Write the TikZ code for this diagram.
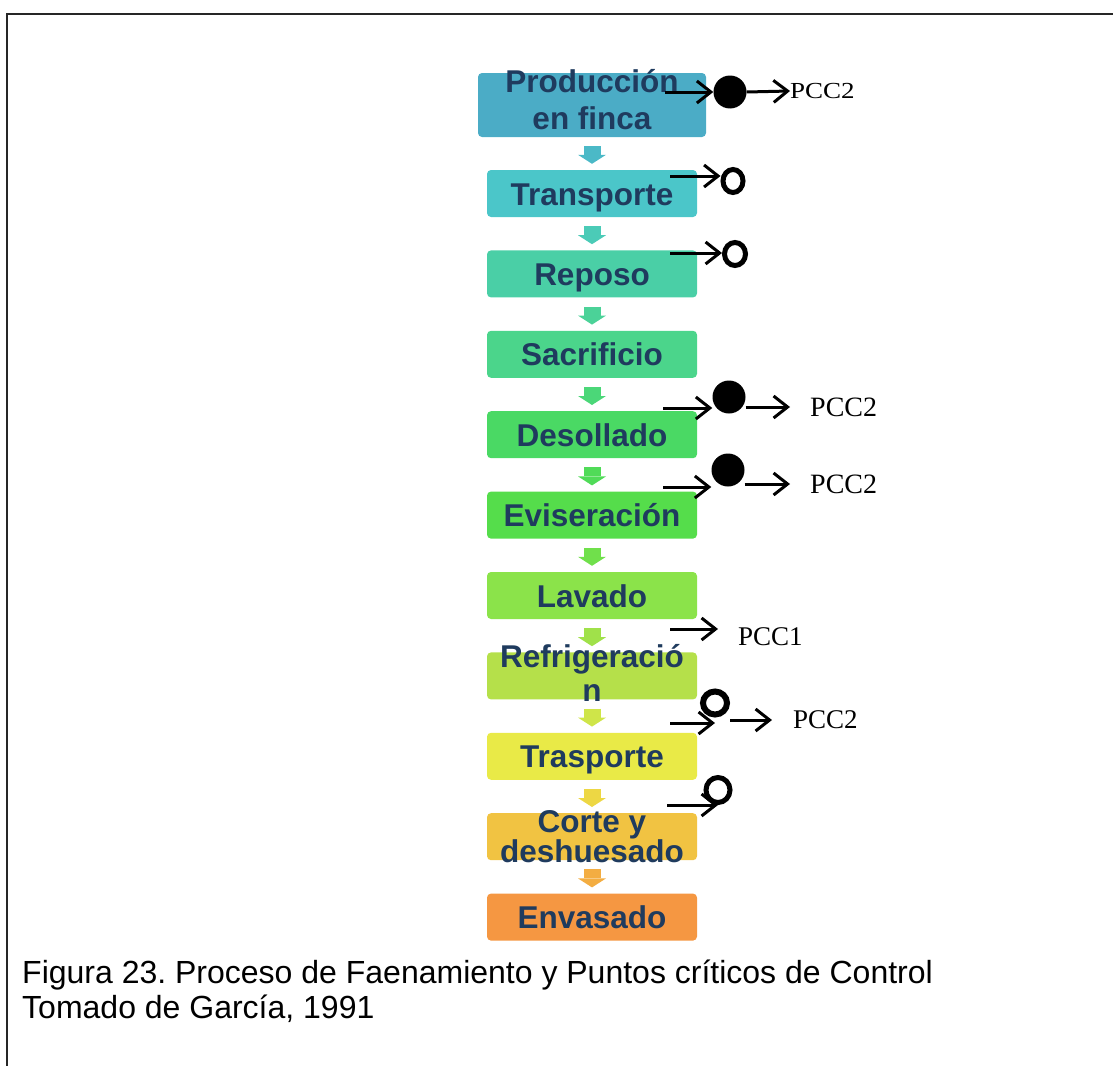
\documentclass[tikz,border=0pt]{standalone}
\usepackage{fontspec}
\setmainfont{Liberation Sans}
\newfontfamily\pccfont{Liberation Serif}
\usetikzlibrary{arrows.meta,shapes.geometric}
\frenchspacing

% step fills, top to bottom
\definecolor{cA}{HTML}{4BACC6}
\definecolor{cB}{HTML}{4BC6C9}
\definecolor{cC}{HTML}{4ACFA6}
\definecolor{cD}{HTML}{4BD58B}
\definecolor{cE}{HTML}{4AD964}
\definecolor{cF}{HTML}{55DD4B}
\definecolor{cG}{HTML}{8BE34A}
\definecolor{cH}{HTML}{B5E04A}
\definecolor{cI}{HTML}{E9EA47}
\definecolor{cJ}{HTML}{F1C342}
\definecolor{cK}{HTML}{F59742}
\definecolor{navytext}{HTML}{1F3B5E}

\begin{document}
\begin{tikzpicture}[x=1pt,y=-1pt,
  stepbox/.style={rectangle, rounded corners=4pt, minimum width=210pt,
    minimum height=47pt, inner sep=0pt},
  steptext/.style={font=\bfseries\fontsize{31.5}{36}\selectfont, text=navytext,
    inner sep=0pt, text height=23pt, text depth=0pt},
  steptwo/.style={text=navytext, align=center, inner sep=0pt},
  flowarrow/.style={line width=17pt, shorten <=9pt, shorten >=6pt,
    -{Triangle[length=9pt,width=28pt,line width=0pt]}},
  pccarrow/.style={draw=black, line width=3pt,
    -{Straight Barb[length=14pt,width=22pt]}},
  dotfull/.style={circle, fill=black, minimum size=33pt, inner sep=0pt},
  dotopen/.style={ellipse, draw=black, line width=5pt, inner sep=0pt},
  pcclabel/.style={font=\pccfont\fontsize{28}{28}\selectfont, inner sep=0pt, anchor=west},
]
\useasboundingbox (0,0) rectangle (1113,1065);

% page frame
\draw[line width=2pt, black!85] (7,1075) -- (7,14) -- (1125,14);

% process steps
\node[stepbox, fill=cA, minimum width=228pt, minimum height=64pt,
  label={[steptwo, yshift=5pt, font=\bfseries\fontsize{31.5}{37}\selectfont]center:{Producción\\en finca}}] (s1) at (592,105) {};
\node[stepbox, fill=cB, label={[steptext]center:Transporte}] (s2) at (592,193.5) {};
\node[stepbox, fill=cC, label={[steptext]center:Reposo}] (s3) at (592,273.9) {};
\node[stepbox, fill=cD, label={[steptext]center:Sacrificio}] (s4) at (592,354.3) {};
\node[stepbox, fill=cE, label={[steptext]center:Desollado}] (s5) at (592,434.7) {};
\node[stepbox, fill=cF, label={[steptext]center:Eviseración}] (s6) at (592,515.1) {};
\node[stepbox, fill=cG, label={[steptext]center:Lavado}] (s7) at (592,595.5) {};
\node[stepbox, fill=cH,
  label={[steptwo, yshift=2.5pt, font=\bfseries\fontsize{31.5}{34}\selectfont]center:{Refrigeració\\n}}] (s8) at (592,675.9) {};
\node[stepbox, fill=cI, label={[steptext]center:Trasporte}] (s9) at (592,756.3) {};
\node[stepbox, fill=cJ,
  label={[steptwo, font=\bfseries\fontsize{31.5}{29}\selectfont]center:{Corte y\\deshuesado}}] (s10) at (592,836.7) {};
\node[stepbox, fill=cK, label={[steptext]center:Envasado}] (s11) at (592,917.1) {};

% block arrows between steps
\foreach \i/\j/\ca/\cb in {1/2/cA/cB, 2/3/cB/cC, 3/4/cC/cD, 4/5/cD/cE, 5/6/cE/cF,
    6/7/cF/cG, 7/8/cG/cH, 8/9/cH/cI, 9/10/cI/cJ, 10/11/cJ/cK}
  \draw[flowarrow, draw=\ca!50!\cb] (s\i.south) -- (s\j.north);

% critical control point marks
% Produccion en finca
\coordinate (a0) at (665,92);
\node[dotfull] (a1) at (730,92) {};
\node[pcclabel, font=\pccfont\fontsize{27}{27}\selectfont] (a2) at (790,91) {\scalebox{1}[0.85]{PCC2}};
\draw[pccarrow] (a0) -- (a1.west);
\draw[pccarrow] (a1.east) -- (a2.west);

% Transporte
\coordinate (b0) at (670,176);
\node[dotopen, minimum width=20pt, minimum height=23pt] (b1) at (733,181) {};
\draw[pccarrow] (b0) -- (b0 -| b1.west);

% Reposo
\coordinate (c0) at (670,253);
\node[dotopen, minimum width=21pt, minimum height=23pt] (c1) at (735,254) {};
\draw[pccarrow] (c0) -- (c0 -| c1.west);

% Desollado
\coordinate (d0) at (663,408);
\node[dotfull] (d1) at (729,397) {};
\node[pcclabel] (d2) at (810,407) {PCC2};
\draw[pccarrow] (d0) -- (d0 -| d1.west);
\draw[pccarrow, shorten >=20pt] (d1.east |- d2.west) -- (d2.west);

% Eviseracion
\coordinate (e0) at (663,487);
\node[dotfull] (e1) at (728,470) {};
\node[pcclabel] (e2) at (810,484) {PCC2};
\draw[pccarrow] (e0) -- (e0 -| e1.west);
\draw[pccarrow, shorten >=20pt] (e1.east |- e2.west) -- (e2.west);

% Refrigeracion
\coordinate (f0) at (670,629);
\node[pcclabel, font=\pccfont\fontsize{27}{27}\selectfont] (f1) at (738,637) {PCC1};
\draw[pccarrow, shorten >=20pt] (f0) -- (f0 -| f1.west);

% Trasporte
\coordinate (g0) at (670,723);
\node[dotopen, line width=6pt, minimum width=24pt, minimum height=23pt] (g1) at (715,703) {};
\node[pcclabel, font=\pccfont\fontsize{27}{27}\selectfont] (g2) at (793,720) {PCC2};
\draw[pccarrow] (g0) -- (g0 -| g1);
\draw[pccarrow, shorten >=21pt] (g1.east |- g2.west) -- (g2.west);

% Corte y deshuesado
\coordinate (h0) at (667,805);
\node[dotopen, minimum width=24pt, minimum height=25pt] (h1) at (718,790) {};
\draw[pccarrow] (h0) -- (h0 -| h1);

% caption
\node[anchor=north west, inner sep=0pt, align=left,
  font=\fontsize{32}{35}\selectfont] (cap) at (22,960)
  {Figura 23. Proceso de Faenamiento y Puntos críticos de Control\\Tomado de García, 1991};
\end{tikzpicture}
\end{document}
